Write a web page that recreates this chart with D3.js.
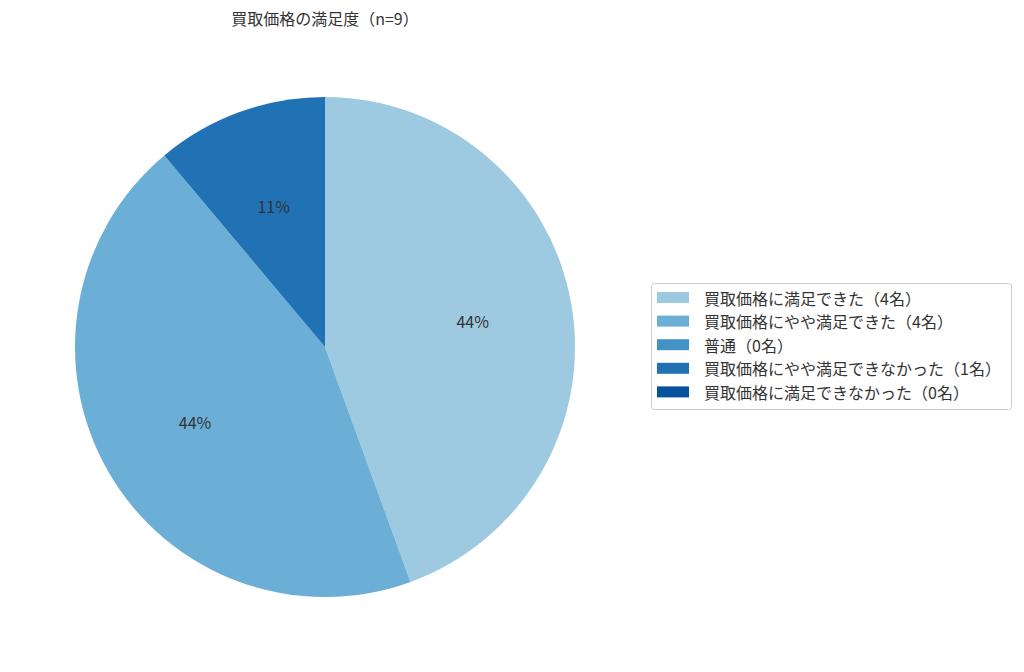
<!DOCTYPE html>
<html><head><meta charset="utf-8">
<script src="https://cdn.jsdelivr.net/npm/d3@7"></script>
<style>body{margin:0;background:#fff;} text{font-family:"Noto Sans CJK JP","Noto Sans",sans-serif;}</style>
</head><body>
<svg id="c" width="1024" height="672"></svg>
<script>
const categories = ["買取価格に満足できた（4名）","買取価格にやや満足できた（4名）","普通（0名）","買取価格にやや満足できなかった（1名）","買取価格に満足できなかった（0名）"];
const values = [4,4,0,1,0];
const colors = ["#9ecae1","#6baed6","#4292c6","#2171b5","#08519c"];
const title = "買取価格の満足度（n=9）";

const svg = d3.select("#c");
const cx = 325, cy = 347, r = 250;
const total = d3.sum(values);
const pie = d3.pie().sort(null).value(d=>d.v).startAngle(0).endAngle(2*Math.PI);
const data = pie(values.map((v,i)=>({v,i})));
const arc = d3.arc().innerRadius(0).outerRadius(r);
const g = svg.append("g").attr("transform",`translate(${cx},${cy})`);
g.selectAll("path").data(data.filter(d=>d.data.v>0)).enter().append("path")
  .attr("d",arc).attr("fill",d=>colors[d.data.i]);
const lab = d3.arc().innerRadius(r*0.6).outerRadius(r*0.6);
g.selectAll("text.l").data(data.filter(d=>d.data.v>0)).enter().append("text")
  .attr("transform",d=>`translate(${lab.centroid(d)})`)
  .attr("text-anchor","middle").attr("dominant-baseline","central")
  .attr("font-size",16).attr("fill","#333")
  .text(d=>Math.round(d.data.v/total*100)+"%");

svg.append("text").attr("x",cx).attr("y",18).attr("text-anchor","middle")
  .attr("dominant-baseline","central").attr("font-size",16).attr("fill","#333").text(title);

const lg = svg.append("g");
lg.append("rect").attr("x",651.5).attr("y",283.5).attr("width",360).attr("height",126)
  .attr("rx",3).attr("fill","#fff").attr("stroke","#ccc").attr("stroke-width",1);
categories.forEach((c,i)=>{
  const y = 297.5 + i*23.6;
  lg.append("rect").attr("x",657).attr("y",y-5.5).attr("width",32).attr("height",11).attr("fill",colors[i]);
  lg.append("text").attr("x",704).attr("y",y).attr("dominant-baseline","central")
    .attr("font-size",16).attr("fill","#333").text(c);
});
</script>
</body></html>
